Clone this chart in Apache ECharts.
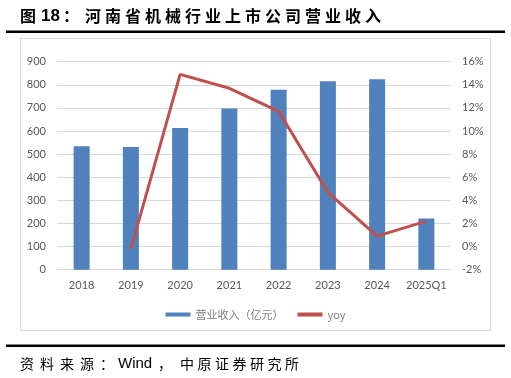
<!DOCTYPE html>
<html>
<head>
<meta charset="utf-8">
<script src="https://cdn.jsdelivr.net/npm/echarts@6/dist/echarts.min.js"></script>
<style>html,body{margin:0;padding:0;background:#fff}#c{width:511px;height:378px}</style>
</head>
<body>
<div id="c"></div>
<script>
const categories = ['2018','2019','2020','2021','2022','2023','2024','2025Q1'];
const revenue = [534, 531, 613, 698, 779, 815, 824, 222];
const yoy = [null, -0.2, 14.9, 13.7, 11.7, 4.7, 0.9, 2.2];
const leftTicks = {min: 0, max: 900, interval: 100};
const rightTicks = {min: -2, max: 16, interval: 2};
const titleText = '河南省机械行业上市公司营业收入';
const sourceA = '资料来源：';
const sourceB = '中原证券研究所';

const CJK = '"Noto Sans CJK SC", "Noto Sans", sans-serif';
const LAT = '"Liberation Sans", Arial, sans-serif';
const AX = 'Lato, "Noto Sans CJK SC", sans-serif';

const graphics = [];
// outer chart border
graphics.push({type:'rect', shape:{x:20.5, y:38.5, width:470, height:292}, style:{fill:'none', stroke:'#D9D9D9', lineWidth:1}, silent:true, z:-1});
// title
graphics.push({type:'text', x:20, y:16, style:{text:'图', font:'bold 16px ' + CJK, fill:'#000', textVerticalAlign:'middle'}});
graphics.push({type:'text', x:41, y:16, style:{text:'18', font:'bold 17px ' + LAT, fill:'#000', textVerticalAlign:'middle'}});
graphics.push({type:'text', x:63, y:16, style:{text:'：', font:'bold 16px ' + CJK, fill:'#000', textVerticalAlign:'middle'}});
for (let i = 0; i < titleText.length; i++) {
  graphics.push({type:'text', x:85 + i*20, y:16, style:{text:titleText[i], font:'bold 16px ' + CJK, fill:'#000', textVerticalAlign:'middle'}});
}
// thick rules
graphics.push({type:'rect', shape:{x:6, y:30.5, width:499, height:2.5}, style:{fill:'#000'}});
graphics.push({type:'rect', shape:{x:6, y:344.5, width:499, height:2.5}, style:{fill:'#000'}});
// source
for (let i = 0; i < sourceA.length; i++) {
  graphics.push({type:'text', x:20 + i*20, y:364, style:{text:sourceA[i], font:'14px ' + CJK, fill:'#000', textVerticalAlign:'middle'}});
}
graphics.push({type:'text', x:118, y:364, style:{text:'Wind', font:'15px ' + LAT, fill:'#000', textVerticalAlign:'middle'}});
graphics.push({type:'text', x:158, y:364, style:{text:'，', font:'14px ' + CJK, fill:'#000', textVerticalAlign:'middle'}});
for (let i = 0; i < sourceB.length; i++) {
  graphics.push({type:'text', x:180 + i*17.5, y:364, style:{text:sourceB[i], font:'14px ' + CJK, fill:'#000', textVerticalAlign:'middle'}});
}

const chart = echarts.init(document.getElementById('c'), null, {renderer:'canvas'});
chart.setOption({
  animation: false,
  backgroundColor: '#fff',
  graphic: graphics,
  grid: {left: 57, right: 60, top: 61.7, bottom: 108.3, containLabel: false},
  legend: {
    left: 'center', top: 304,
    itemWidth: 25, itemHeight: 4, itemGap: 14,
    icon: 'rect',
    textStyle: {color:'#7f7f7f', fontSize: 11, fontFamily: CJK},
    data: [{name:'营业收入（亿元）', icon:'rect'}, {name:'yoy', icon:'rect'}]
  },
  xAxis: {
    type: 'category', data: categories,
    axisLine: {show:false}, axisTick: {show:false},
    axisLabel: {color:'#595959', fontSize: 11, fontFamily: AX, margin: 10, interval: 0}
  },
  yAxis: [
    {type:'value', min:leftTicks.min, max:leftTicks.max, interval:leftTicks.interval,
     axisLine:{show:false}, axisTick:{show:false},
     axisLabel:{color:'#595959', fontSize:11, fontFamily:AX, margin:11},
     splitLine:{lineStyle:{color:'#D9D9D9', width:1}}},
    {type:'value', min:rightTicks.min, max:rightTicks.max, interval:rightTicks.interval, position:'right',
     axisLine:{show:false}, axisTick:{show:false},
     axisLabel:{color:'#595959', fontSize:11, fontFamily:AX, margin:11, formatter:'{value}%'},
     splitLine:{show:false}}
  ],
  series: [
    {name:'营业收入（亿元）', type:'bar', data: revenue, barWidth: 16, yAxisIndex: 0,
     itemStyle:{color:'#4F81BD'}},
    {name:'yoy', type:'line', data: yoy, yAxisIndex: 1, showSymbol:false, symbol:'none',
     lineStyle:{color:'#C0504D', width:3}, itemStyle:{color:'#C0504D'}, connectNulls:false}
  ]
});
</script>
</body>
</html>
